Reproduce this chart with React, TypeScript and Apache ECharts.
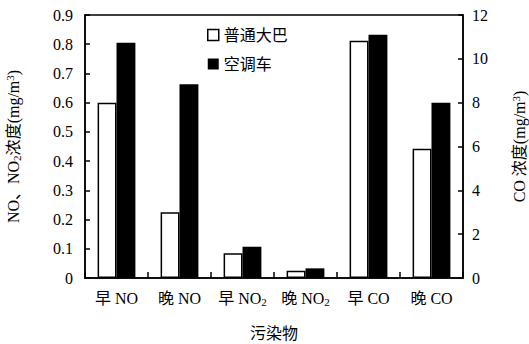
import React, { useEffect, useRef } from "react";
import * as echarts from "echarts";

const categories = ["早 NO", "晚 NO", "早 NO{sub|2}", "晚 NO{sub|2}", "早 CO", "晚 CO"];
const busNO = [0.6, 0.225, 0.085, 0.025, "-", "-"];
const acNO = [0.805, 0.663, 0.107, 0.033, "-", "-"];
const busCO = ["-", "-", "-", "-", 10.82, 5.9];
const acCO = ["-", "-", "-", "-", 11.1, 8.0];
const seriesNames = ["普通大巴", "空调车"];

const FONT = "'Liberation Serif', 'Times New Roman', 'Noto Sans CJK SC', serif";

const rich = {
  n: { fontFamily: FONT, fontSize: 16, color: "#000", lineHeight: 18 },
  sub: { fontFamily: FONT, fontSize: 11, color: "#000", verticalAlign: "bottom", lineHeight: 18, padding: [6, 0, 0, 0] },
  sup: { fontFamily: FONT, fontSize: 11, color: "#000", verticalAlign: "top", lineHeight: 18, padding: [0, 0, 6, 0] },
};

export default function App() {
  const ref = useRef<HTMLDivElement>(null);
  useEffect(() => {
    const chart = echarts.init(ref.current!, null, { renderer: "svg" });
    const white = { color: "#fff", borderColor: "#000", borderWidth: 1.5 };
    const black = { color: "#000", borderColor: "#000", borderWidth: 0 };
    const catAxis = (show: boolean) => ({
      type: "category",
      data: categories,
      show,
      boundaryGap: true,
      axisLine: { show: true, lineStyle: { color: "#000", width: 1.5 } },
      axisTick: { show: true, interval: 0, inside: true, length: 6, lineStyle: { color: "#000", width: 1.5 } },
      axisLabel: {
        interval: 0,
        margin: 11,
        formatter: (v: string) => {
          const m = v.match(/^(.*?)\{sub\|2\}$/);
          return m ? `{n|${m[1]}}{sub|2}` : `{n|${v}}`;
        },
        rich,
      },
      name: show ? "污染物" : "",
      nameLocation: "middle",
      nameGap: 47,
      nameTextStyle: { fontFamily: FONT, fontSize: 16, color: "#000" },
    });
    chart.setOption({
      animation: false,
      textStyle: { fontFamily: FONT, color: "#000" },
      grid: {
        left: 85, right: 66, top: 15, bottom: 66,
        containLabel: false,
        outerBoundsMode: "none",
        show: true, borderColor: "#000", borderWidth: 1.5,
      },
      legend: {
        orient: "vertical",
        left: 202,
        top: 22,
        itemWidth: 11,
        itemHeight: 11,
        itemGap: 13,
        icon: "rect",
        data: [
          { name: seriesNames[0], itemStyle: white },
          { name: seriesNames[1], itemStyle: black },
        ],
        textStyle: { fontFamily: FONT, fontSize: 16, color: "#000" },
      },
      xAxis: [catAxis(true), catAxis(false)],
      yAxis: [
        {
          type: "value",
          min: 0,
          max: 0.9,
          interval: 0.1,
          position: "left",
          splitLine: { show: false },
          axisLine: { show: true, lineStyle: { color: "#000", width: 1.5 } },
          axisTick: { show: true, inside: true, length: 5, lineStyle: { color: "#000", width: 1.5 } },
          axisLabel: { fontFamily: FONT, fontSize: 16, color: "#000", margin: 12, formatter: (v: number) => (v === 0 ? "0" : v.toFixed(1)) },
          name: "{n|NO、NO}{sub|2}{n|浓度(mg/m}{sup|3}{n|)}",
          nameLocation: "middle",
          nameRotate: 90,
          nameGap: 63,
          nameTextStyle: { rich },
        },
        {
          type: "value",
          min: 0,
          max: 12,
          interval: 2,
          position: "right",
          splitLine: { show: false },
          axisLine: { show: true, lineStyle: { color: "#000", width: 1.5 } },
          axisTick: { show: true, inside: true, length: 5, lineStyle: { color: "#000", width: 1.5 } },
          axisLabel: { fontFamily: FONT, fontSize: 16, color: "#000", margin: 9 },
          name: "{n|CO 浓度(mg/m}{sup|3}{n|)}",
          nameLocation: "middle",
          nameRotate: 90,
          nameGap: 47,
          nameTextStyle: { rich },
        },
      ],
      series: [
        { name: seriesNames[0], type: "bar", xAxisIndex: 0, yAxisIndex: 0, data: busNO, itemStyle: white, barGap: "0%", barCategoryGap: "40%" },
        { name: seriesNames[1], type: "bar", xAxisIndex: 0, yAxisIndex: 0, data: acNO, itemStyle: black, barGap: "0%", barCategoryGap: "40%" },
        { name: seriesNames[0], type: "bar", xAxisIndex: 1, yAxisIndex: 1, data: busCO, itemStyle: white, barGap: "0%", barCategoryGap: "40%" },
        { name: seriesNames[1], type: "bar", xAxisIndex: 1, yAxisIndex: 1, data: acCO, itemStyle: black, barGap: "0%", barCategoryGap: "40%" },
      ],
    });
    return () => chart.dispose();
  }, []);
  return <div ref={ref} style={{ width: 529, height: 344, position: "absolute", left: 0, top: 0, background: "#fff" }} />;
}
